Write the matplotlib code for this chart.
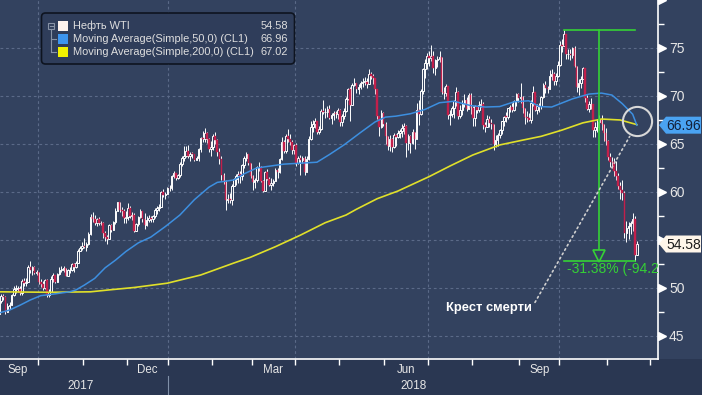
import numpy as np
import matplotlib
matplotlib.use("Agg")
import matplotlib.pyplot as plt
from matplotlib.transforms import blended_transform_factory, ScaledTranslation
from matplotlib.patches import FancyBboxPatch, Polygon, Rectangle

plt.rcParams['font.family'] = ['Liberation Sans', 'DejaVu Sans']

# ---------------- data ----------------
month_names = ['Sep', 'Oct', 'Nov', 'Dec', 'Jan', 'Feb', 'Mar', 'Apr', 'May',
               'Jun', 'Jul', 'Aug', 'Sep', 'Oct', 'Nov']
month_years = [2017, 2017, 2017, 2017, 2018, 2018, 2018, 2018, 2018,
               2018, 2018, 2018, 2018, 2018, 2018]
month_counts = [19, 22, 21, 20, 21, 19, 21, 21, 22, 21, 21, 23, 19, 23, 15]
nov18_days_after_data = 6          # trading days left in Nov 2018 after the last bar

prev_close = 47.29

close = [
    # Sep 2017
    48.66, 49.16, 49.09, 47.48, 48.07, 48.23, 49.30, 49.89, 49.89, 49.91, 49.48, 50.69, 50.55, 50.66, 52.22, 51.88, 52.14, 51.56, 51.67,
    # Oct 2017
    50.58, 50.42, 49.98, 50.79, 49.29, 49.58, 50.92, 51.30, 50.60, 51.45, 51.87, 51.88, 52.04, 51.29, 51.84, 51.90, 52.47, 52.18, 52.64, 53.90, 54.15, 54.38,
    # Nov 2017
    54.30, 54.54, 55.64, 57.35, 57.20, 56.81, 57.17, 56.74, 56.76, 55.70, 55.33, 55.14, 56.55, 56.09, 56.83, 58.02, 58.95, 58.11, 57.99, 57.30, 57.40,
    # Dec 2017
    58.36, 57.47, 57.62, 55.96, 56.69, 57.36, 57.99, 57.14, 56.60, 57.04, 57.30, 57.16, 57.46, 58.09, 58.36, 58.47, 59.97, 59.64, 59.84, 60.42,
    # Jan 2018
    60.37, 61.63, 62.01, 61.44, 61.73, 62.96, 63.57, 63.80, 64.30, 63.73, 63.97, 63.95, 63.37, 63.57, 64.47, 65.61, 65.51, 66.14, 65.56, 64.50, 64.73,
    # Feb 2018
    65.80, 65.45, 64.15, 63.39, 61.79, 61.15, 59.20, 59.29, 59.19, 60.60, 61.34, 61.68, 61.90, 61.68, 62.77, 63.55, 63.91, 63.01, 61.64,
    # Mar 2018
    60.99, 61.25, 62.57, 62.60, 61.15, 60.12, 62.04, 61.36, 60.71, 60.96, 61.19, 62.34, 62.06, 63.40, 65.17, 64.30, 65.88, 65.55, 65.25, 64.38, 64.94,
    # Apr 2018
    63.01, 63.51, 63.37, 63.54, 62.06, 63.42, 65.51, 66.82, 67.07, 67.39, 66.22, 66.52, 68.47, 68.29, 68.38, 68.64, 67.70, 68.05, 68.19, 68.10, 68.57,
    # May 2018
    67.25, 67.93, 68.43, 69.72, 70.73, 69.06, 71.14, 71.36, 70.70, 70.96, 71.31, 71.49, 71.49, 71.28, 72.24, 72.13, 71.84, 70.71, 67.88, 66.73, 68.21, 67.04,
    # Jun 2018
    65.81, 64.75, 65.52, 64.73, 65.95, 65.74, 66.10, 66.36, 66.64, 66.89, 65.06, 65.85, 65.07, 66.22, 65.54, 68.58, 68.08, 70.53, 72.76, 73.45, 74.15,
    # Jul 2018
    73.94, 74.14, 72.94, 73.80, 73.85, 74.11, 70.38, 70.33, 71.01, 68.06, 68.08, 68.76, 69.46, 70.46, 67.89, 68.52, 69.30, 69.61, 68.69, 70.13, 68.76,
    # Aug 2018
    67.66, 68.96, 68.49, 69.01, 69.17, 66.94, 66.81, 67.63, 67.20, 67.04, 65.01, 65.46, 65.91, 66.43, 67.35, 67.86, 67.83, 68.72, 68.87, 68.53, 69.51, 70.25, 69.80,
    # Sep 2018
    69.87, 68.72, 67.77, 67.75, 67.54, 69.25, 70.37, 68.59, 68.99, 68.91, 69.85, 71.12, 70.80, 70.78, 72.08, 72.28, 71.57, 72.12, 73.25,
    # Oct 2018
    75.30, 75.23, 76.41, 74.33, 74.34, 74.29, 74.96, 73.17, 70.97, 71.34, 71.78, 72.92, 69.75, 68.65, 69.12, 69.17, 66.43, 66.82, 67.33, 67.59, 67.04, 66.18, 65.31,
    # Nov 2018
    63.69, 63.14, 63.10, 62.21, 61.67, 60.67, 60.19, 59.93, 55.69, 56.25, 56.46, 56.76, 57.20, 53.43, 54.58,
]

high = [
    49.4, 49.4, 49.4, 49.2, 48.4, 48.5, 49.4, 50.2, 50.3, 50.2, 50.2, 50.9, 51.0, 51.0, 52.4, 52.8, 52.3, 52.3, 51.9,
    51.7, 50.9, 50.7, 50.9, 50.9, 49.9, 51.2, 51.6, 51.4, 51.6, 52.2, 52.3, 52.3, 52.1, 52.0, 52.2, 52.6, 52.6, 52.8, 54.1, 54.4, 54.8,
    55.2, 54.8, 55.8, 57.7, 57.9, 57.6, 57.3, 57.4, 57.0, 56.9, 55.9, 55.5, 56.7, 56.7, 57.0, 58.3, 59.0, 59.0, 58.4, 58.2, 58.0,
    58.9, 58.5, 57.9, 57.8, 56.8, 57.5, 58.2, 58.0, 57.8, 57.5, 57.6, 57.5, 57.6, 58.3, 58.5, 58.7, 60.1, 60.3, 60.0, 60.5,
    60.7, 61.8, 62.2, 62.0, 61.9, 63.1, 63.7, 64.8, 64.8, 64.9, 64.2, 64.2, 64.0, 63.8, 64.6, 65.7, 66.4, 66.7, 66.2, 65.6, 65.3,
    66.0, 66.3, 65.5, 64.6, 63.8, 62.0, 61.2, 59.8, 59.9, 60.8, 61.5, 61.9, 62.2, 62.2, 62.9, 63.7, 64.2, 63.9, 63.0,
    61.8, 61.5, 62.7, 63.1, 62.7, 61.3, 62.2, 62.4, 61.6, 61.5, 61.4, 62.5, 62.5, 63.5, 65.7, 65.4, 66.0, 66.6, 66.0, 65.4, 65.0,
    65.1, 63.7, 63.9, 63.8, 63.8, 63.7, 65.8, 67.4, 67.5, 67.7, 67.4, 66.9, 68.6, 69.6, 68.8, 69.0, 69.1, 68.2, 68.4, 68.4, 68.7,
    68.6, 68.1, 68.7, 69.9, 70.8, 70.9, 71.4, 71.9, 71.4, 71.2, 71.6, 71.9, 72.0, 71.9, 72.8, 72.5, 72.3, 71.5, 70.6, 67.9, 68.5, 68.3,
    67.3, 65.8, 65.9, 65.6, 66.1, 66.0, 66.5, 66.6, 67.1, 67.2, 67.0, 66.0, 65.9, 66.6, 66.2, 69.3, 69.6, 70.7, 72.9, 73.9, 74.5,
    74.7, 75.3, 74.7, 73.9, 74.2, 74.7, 73.6, 70.9, 71.3, 71.0, 68.5, 69.0, 69.6, 70.9, 70.5, 69.1, 69.6, 70.2, 69.9, 70.3, 70.3,
    69.0, 69.1, 68.9, 69.5, 69.7, 69.4, 67.3, 68.0, 67.9, 67.6, 67.0, 65.9, 66.1, 66.6, 67.4, 67.9, 68.3, 68.8, 69.1, 69.3, 69.6, 70.3, 70.3,
    71.4, 70.0, 68.8, 68.4, 68.2, 69.6, 71.0, 70.4, 69.2, 69.3, 70.0, 71.4, 71.6, 71.0, 72.7, 72.8, 72.5, 72.4, 73.6,
    75.7, 75.9, 76.9, 76.1, 74.9, 74.9, 75.1, 75.2, 73.0, 71.8, 72.1, 73.0, 72.4, 70.1, 69.5, 69.8, 69.0, 67.3, 67.6, 68.0, 68.0, 67.1, 66.7,
    65.4, 64.1, 63.6, 63.5, 63.2, 62.0, 61.0, 61.3, 60.1, 57.0, 56.9, 57.0, 57.8, 57.5, 54.9,
]

low = [
    47.3, 48.4, 48.7, 47.3, 47.5, 47.8, 48.3, 49.2, 49.5, 49.6, 49.3, 49.3, 50.2, 50.2, 50.6, 51.6, 51.3, 51.5, 51.3,
    50.4, 50.1, 49.8, 49.9, 49.1, 49.1, 49.6, 50.6, 50.5, 50.6, 51.4, 51.7, 51.7, 51.2, 51.3, 51.6, 51.8, 51.7, 52.1, 52.6, 53.8, 54.0,
    54.2, 53.9, 54.5, 55.5, 56.9, 56.6, 56.5, 56.6, 56.6, 55.2, 54.9, 54.6, 55.1, 55.8, 56.0, 56.7, 58.0, 57.9, 57.5, 56.8, 56.8,
    57.1, 57.3, 57.1, 55.8, 55.9, 56.5, 57.3, 56.9, 56.1, 56.5, 56.9, 56.9, 56.9, 57.3, 57.7, 58.0, 58.4, 59.5, 59.3, 59.8,
    60.1, 60.2, 61.5, 61.3, 61.4, 61.6, 62.7, 63.2, 63.6, 63.5, 63.2, 63.5, 63.2, 63.3, 63.2, 64.2, 65.2, 65.2, 65.1, 64.2, 63.7,
    64.4, 65.0, 63.8, 62.9, 61.2, 60.8, 58.1, 58.9, 58.9, 58.6, 60.6, 60.7, 60.9, 60.9, 61.2, 62.5, 63.2, 62.8, 61.5,
    60.2, 60.4, 61.0, 62.2, 61.0, 60.0, 60.1, 61.2, 60.6, 60.2, 60.6, 61.2, 61.5, 62.0, 63.3, 64.1, 64.1, 65.2, 64.9, 64.0, 64.0,
    62.7, 62.9, 61.8, 63.0, 61.8, 62.1, 63.3, 65.4, 66.3, 66.7, 66.0, 66.0, 66.5, 68.1, 67.7, 67.8, 67.6, 67.1, 67.5, 67.7, 67.6,
    66.9, 66.9, 67.6, 68.3, 69.6, 67.4, 69.2, 71.0, 70.3, 70.2, 70.7, 70.9, 71.1, 70.8, 71.4, 71.8, 71.2, 70.2, 67.6, 65.8, 66.7, 66.9,
    65.0, 64.4, 64.3, 64.2, 64.6, 64.8, 65.6, 65.6, 65.7, 66.0, 63.6, 64.4, 64.1, 65.0, 64.5, 65.8, 67.0, 68.0, 70.2, 71.9, 72.8,
    73.1, 73.6, 72.4, 72.2, 73.0, 73.5, 70.2, 69.7, 70.0, 67.6, 67.0, 67.8, 67.7, 69.0, 67.6, 67.7, 68.0, 68.9, 68.4, 68.7, 68.1,
    66.9, 66.9, 68.2, 68.3, 68.9, 66.6, 66.2, 66.8, 66.8, 66.6, 64.4, 64.7, 64.8, 65.6, 66.0, 66.9, 67.3, 67.6, 68.3, 68.3, 68.4, 69.0, 69.4,
    69.3, 68.2, 67.1, 67.3, 67.4, 67.2, 69.0, 68.4, 68.1, 68.3, 68.6, 69.8, 70.3, 70.3, 70.8, 71.7, 71.1, 71.1, 72.0,
    73.1, 74.6, 75.2, 73.9, 73.9, 73.8, 74.0, 73.0, 70.4, 70.1, 70.8, 71.8, 69.4, 68.5, 68.3, 68.6, 65.7, 65.7, 66.3, 66.5, 66.5, 65.3, 64.9,
    63.3, 62.6, 62.5, 61.7, 61.3, 60.3, 59.3, 59.2, 55.2, 54.8, 55.1, 55.6, 55.9, 52.77, 53.5,
]

# moving averages (trading-day index, value)
ma50_idx = [0, 5, 10, 15, 20, 24, 29, 34, 37, 41, 46, 51, 56, 61, 67, 73, 80, 87, 94, 101,
            105, 113, 118, 124, 137, 145, 153, 159, 166, 174, 181, 186, 191, 198, 205, 212,
            219, 227, 234, 241, 248, 255, 260, 266, 276, 284, 290, 295, 300, 305, 307]
ma50 = [47.4, 47.7, 48.2, 48.75, 49.2, 49.3, 49.45, 49.6, 49.8, 50.3, 51.0, 52.1, 52.9, 53.8,
        54.7, 55.3, 56.4, 57.6, 59.2, 60.5, 61.0, 61.25, 61.9, 62.5, 62.9, 63.0, 63.1, 63.9,
        64.9, 66.2, 67.3, 67.8, 67.9, 68.15, 68.6, 69.3, 69.45, 69.0, 68.85, 68.9, 69.4, 69.5,
        68.9, 68.85, 69.7, 70.2, 70.3, 70.1, 69.2, 68.1, 66.96]
ma200_idx = [0, 24, 44, 53, 65, 81, 97, 113, 121, 133, 145, 157, 167, 172, 182, 192, 207,
             217, 228, 241, 252, 261, 271, 281, 290, 299, 307]
ma200 = [49.6, 49.55, 49.6, 49.8, 50.05, 50.5, 51.35, 52.6, 53.2, 54.3, 55.5, 56.8, 57.6,
         58.2, 59.3, 60.1, 61.6, 62.7, 63.85, 64.9, 65.4, 65.8, 66.45, 67.2, 67.6, 67.5, 67.02]

legend_labels = ['Нефть WTI', 'Moving Average(Simple,50,0) (CL1)', 'Moving Average(Simple,200,0) (CL1)']
legend_values = ['54.58', '66.96', '67.02']
last_price_label = 54.58
last_ma50_label = 66.96
y_major = [45, 50, 55, 60, 65, 70, 75, 80]
y_labels = ['45', '50', '', '60', '65', '70', '75', '']   # 55 is hidden behind the 54.58 tag
measure_text = '-31.38% (-94.29)'
cross_text = 'Крест смерти'

# ---------------- style ----------------
BG = '#33425f'
BG_BOTTOM = '#2a3752'
GRID = '#5b6a88'
RED = '#c21f4b'
BLUE = '#3d8fe0'
YELLOW = '#e0e02a'
GREEN = '#35d135'
TXT = '#e6e6e6'
W, H = 702, 395

close = np.array(close); high = np.array(high); low = np.array(low)
n = len(close)
x = np.arange(n)
opens = np.r_[prev_close, close[:-1]]
up = close >= opens
body_lo = np.minimum(opens, close)
body_hi = np.maximum(opens, close)
hi = np.maximum(high, body_hi)
lo = np.minimum(low, body_lo)

fig = plt.figure(figsize=(W / 100, H / 100), dpi=100)
fig.patch.set_facecolor(BG)
fig.add_artist(Rectangle((0, 0), 1, 36 / H, transform=fig.transFigure,
                         facecolor=BG_BOTTOM, edgecolor='none', zorder=0))
ax = fig.add_axes([0, 36 / H, 658 / W, 359 / H])
ax.set_facecolor(BG)
ax.set_xlim(0.39, 317.2)
ax.set_ylim(42.6, 80.0)

# grid
for v in y_major[:-1]:
    ax.axhline(v, color=GRID, lw=0.8, ls=(0, (2.5, 2.5)), zorder=1)
cum = np.cumsum([0] + month_counts)
for k in range(1, len(month_counts)):
    if month_names[k] in ('Oct', 'Jan', 'Apr', 'Jul'):
        ax.axvline(cum[k] - 0.5, color=GRID, lw=0.8, ls=(0, (2.5, 2.5)), zorder=1)

# candles
ax.vlines(x, lo, hi, color='white', lw=0.7, zorder=2)
bh = np.maximum(body_hi - body_lo, 0.07)
ax.bar(x[up], bh[up], bottom=body_lo[up], width=0.75, facecolor=BG,
       edgecolor='white', linewidth=0.7, zorder=3)
ax.bar(x[~up], bh[~up], bottom=body_lo[~up], width=0.75, facecolor=RED,
       edgecolor=RED, linewidth=0.3, zorder=3)

# moving averages
ax.plot(ma200_idx, ma200, color=YELLOW, lw=1.2, zorder=4)
ax.plot(ma50_idx, ma50, color=BLUE, lw=1.1, zorder=4)

# spines / ticks
for s in ('top', 'left'):
    ax.spines[s].set_visible(False)
for s in ('right', 'bottom'):
    ax.spines[s].set_color('white')
    ax.spines[s].set_linewidth(1.2)
ax.yaxis.set_ticks_position('right')
ax.set_yticks(y_major)
ax.set_yticklabels(y_labels)
ax.set_yticks([v + 2.5 for v in y_major[:-1]], minor=True)
ax.tick_params(axis='y', which='major', length=0, pad=8, labelsize=10, labelcolor=TXT)
ax.tick_params(axis='y', which='minor', length=4, width=1, color='white')

bounds = list(cum[1:-1] - 0.5) + [cum[-1] + nov18_days_after_data - 0.5]
ax.set_xticks(bounds)
ax.set_xticklabels([])
ax.tick_params(axis='x', length=4, width=1, color='white', direction='out')

btrans = blended_transform_factory(ax.transData, ax.transAxes)
for k in range(len(month_counts)):
    if month_names[k] in ('Sep', 'Dec', 'Mar', 'Jun'):
        c = (cum[k] + cum[k + 1] - 1) / 2
        ax.text(c, -0.031, month_names[k], transform=btrans, ha='center', va='center',
                fontsize=8.3, color=TXT, clip_on=False)
jan18 = cum[month_years.index(2018)] - 0.5
x0, x1 = ax.get_xlim()
ax.text((x0 + jan18) / 2 - 1.5, -0.074, '2017', transform=btrans, ha='center', va='center',
        fontsize=8.5, color=TXT)
ax.text((jan18 + x1) / 2, -0.074, '2018', transform=btrans, ha='center', va='center',
        fontsize=8.5, color=TXT)
ax.plot([jan18, jan18], [-0.047, -0.105], transform=btrans, color='#8090a8', lw=0.8,
        clip_on=False)

# right-axis flag ticks
ytrans = blended_transform_factory(ax.transAxes, ax.transData)
off = ScaledTranslation(3.5 / 100, 0, fig.dpi_scale_trans)
ax.plot([1.0] * len(y_major), y_major, ls='none', marker='>', ms=5.2, color='white',
        transform=ytrans + off, clip_on=False, zorder=6)

# measurement (peak to trough)
i1 = int(np.argmax(hi))
i2 = i1 + int(np.argmin(lo[i1:]))
h1, l2 = hi[i1], lo[i2]
xm = (i1 + i2) / 2
ax.plot([i1, i2], [h1, h1], color=GREEN, lw=1.2, zorder=5)
ax.plot([i1, i2], [l2, l2], color=GREEN, lw=1.2, zorder=5)
ax.plot([xm, xm], [h1, l2], color=GREEN, lw=1.2, zorder=5)
ax.plot([xm], [l2], marker='v', ms=8, mfc=BG, mec=GREEN, mew=1.2, zorder=6,
        transform=ax.transData + ScaledTranslation(0, 5.6 / 100, fig.dpi_scale_trans))
ax.text(i1, l2, measure_text, color=GREEN, fontsize=10, ha='left', va='center',
        transform=ax.transData + ScaledTranslation(3 / 100, -8 / 100, fig.dpi_scale_trans),
        clip_on=True, zorder=6)

# death cross circle
g = np.linspace(280, ma50_idx[-1], 600)
d = np.interp(g, ma50_idx, ma50) - np.interp(g, ma200_idx, ma200)
sc = np.where(np.diff(np.sign(d)) != 0)[0]
k = sc[-1] if len(sc) else len(g) - 1
cx, cy = g[k], np.interp(g[k], ma50_idx, ma50)
ax.plot([cx], [cy], marker='o', ms=21, mfc='none', mec='#d8d8d8', mew=1.5, zorder=6,
        clip_on=False, transform=ax.transData + ScaledTranslation(0, 3 / 100, fig.dpi_scale_trans))
ax.annotate(cross_text, xy=(cx, cy), xytext=(-105, -184), textcoords='offset pixels',
            ha='right', va='center', fontsize=9.3, fontweight='bold', color='white',
            arrowprops=dict(arrowstyle='-', color='#d0d0d0', lw=1.2, ls=(0, (1, 2)),
                            shrinkA=1, shrinkB=10, relpos=(1, 0.5)), zorder=6)

# ---------------- overlay in pixel coordinates ----------------
ov = fig.add_axes([0, 0, 1, 1], zorder=5)
ov.set_xlim(0, W); ov.set_ylim(H, 0); ov.axis('off'); ov.patch.set_alpha(0)


def ypx(v):
    return H - ax.transData.transform((1, v))[1]


def value_box(v, text, face, tcol):
    y = ypx(v)
    ov.add_patch(Polygon([(659, y), (666, y - 8.5), (701, y - 8.5), (701, y + 8.5),
                          (666, y + 8.5)], closed=True, facecolor=face, edgecolor='none'))
    ov.text(683.5, y + 0.5, text, ha='center', va='center', fontsize=10, color=tcol)


value_box(last_ma50_label, legend_values[1], '#4aa3f2', '#13203a')
value_box(last_price_label, legend_values[0], '#fff6ea', '#1c1c1c')

# legend
ov.add_patch(FancyBboxPatch((41.5, 13), 253, 51, boxstyle='round,pad=0,rounding_size=4',
                            facecolor='#2f3d5a', edgecolor='#0e1420', lw=1.2))
rows = [26, 39.3, 52.3]
swatch = ['#fdf3ee', '#3d95ee', '#f2f200']
for r, lab, val, col in zip(rows, legend_labels, legend_values, swatch):
    ov.add_patch(Rectangle((58.3, r - 5), 10, 10, facecolor=col, edgecolor='none'))
    ov.text(73, r, lab, ha='left', va='center', fontsize=7.9, color='#dedede')
    ov.text(288, r, val, ha='right', va='center', fontsize=7.9, color='#dedede')
tree = '#8893a6'
ov.add_patch(Rectangle((48.3, 22.5), 6, 6, facecolor='none', edgecolor=tree, lw=0.8))
ov.plot([49.8, 52.8], [25.5, 25.5], color=tree, lw=0.8)
ov.plot([51.3, 51.3], [28.5, rows[2]], color=tree, lw=0.8)
ov.plot([51.3, 56], [rows[1], rows[1]], color=tree, lw=0.8)
ov.plot([51.3, 56], [rows[2], rows[2]], color=tree, lw=0.8)

fig.savefig('out.png', dpi=100, facecolor=fig.get_facecolor())
